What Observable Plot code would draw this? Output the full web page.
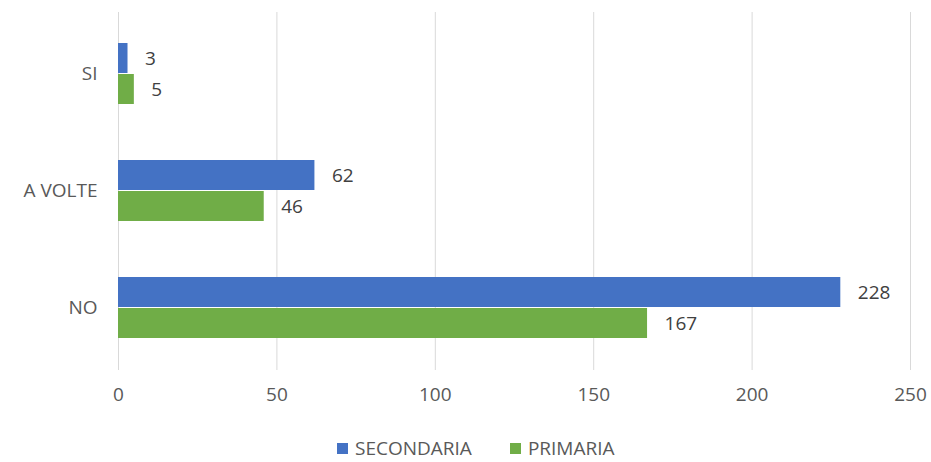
<!DOCTYPE html>
<html>
<head>
<meta charset="utf-8">
<script src="https://cdn.jsdelivr.net/npm/d3@7"></script>
<script src="https://cdn.jsdelivr.net/npm/@observablehq/plot@0.6"></script>
<style>
  body { margin: 0; background: #fff; font-family: "Open Sans", sans-serif; overflow: hidden; }
  #chart svg { display: block; }
  .legend { display: flex; align-items: center; height: 24px; margin-top: 4px; padding-left: 337px; font-size: 19px; line-height: 24px; color: #595959; }
  .legend .item { display: flex; align-items: center; }
  .legend .sw { width: 11px; height: 11px; margin-right: 7px; }
</style>
</head>
<body>
<div id="chart"></div>
<script>
const categories = ["SI", "A VOLTE", "NO"];
const seriesNames = ["SECONDARIA", "PRIMARIA"];
const secondaria = [3, 62, 228];
const primaria = [5, 46, 167];
const xTicks = [0, 50, 100, 150, 200, 250];
const colors = ["#4472C4", "#70AD47"];

const sec = categories.map((c, i) => ({cat: c, value: secondaria[i]}));
const pri = categories.map((c, i) => ({cat: c, value: primaria[i]}));

const chart = Plot.plot({
  width: 931,
  height: 432,
  marginLeft: 118,
  marginRight: 21,
  marginTop: 12,
  marginBottom: 62,
  style: {fontFamily: "Open Sans, sans-serif", fontSize: "19px", color: "#595959", background: "#fff"},
  x: {domain: [0, 250], ticks: xTicks, tickSize: 0, tickPadding: 17, label: null},
  y: {domain: categories, paddingInner: 0.475, paddingOuter: 0.2545, tickSize: 0, tickPadding: 21, label: null},
  marks: [
    Plot.ruleX(xTicks, {x: d => d, stroke: "#d9d9d9", strokeWidth: 1}),
    Plot.barX(sec, {x: "value", y: "cat", fill: colors[0], insetBottom: 31, insetTop: 0}),
    Plot.barX(pri, {x: "value", y: "cat", fill: colors[1], insetTop: 31, insetBottom: 0}),
    Plot.text(sec, {x: "value", y: "cat", text: d => String(d.value), dx: 17, dy: -15.5, textAnchor: "start", fill: "#404040", fontSize: 19}),
    Plot.text(pri, {x: "value", y: "cat", text: d => String(d.value), dx: 17, dy: 15.5, textAnchor: "start", fill: "#404040", fontSize: 19})
  ]
});
document.getElementById("chart").appendChild(chart);

const legend = document.createElement("div");
legend.className = "legend";
seriesNames.forEach((name, i) => {
  const item = document.createElement("div");
  item.className = "item";
  if (i > 0) item.style.marginLeft = "38px";
  const sw = document.createElement("span");
  sw.className = "sw";
  sw.style.background = colors[i];
  const label = document.createElement("span");
  label.textContent = name;
  item.appendChild(sw);
  item.appendChild(label);
  legend.appendChild(item);
});
document.body.appendChild(legend);
</script>
</body>
</html>
